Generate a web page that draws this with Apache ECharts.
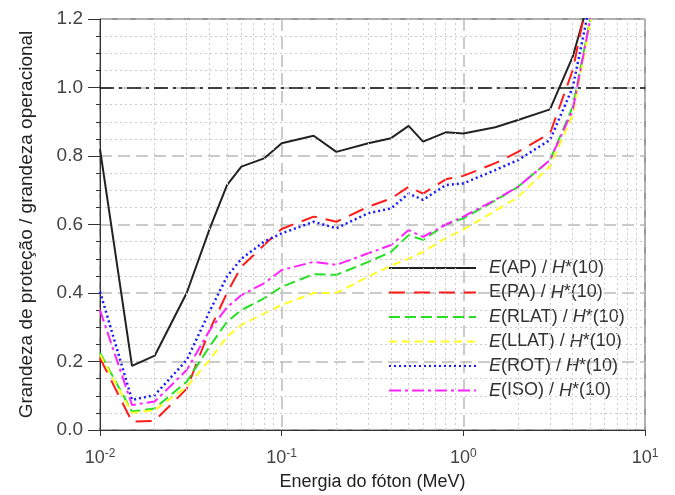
<!DOCTYPE html>
<html>
<head>
<meta charset="utf-8">
<script src="https://cdn.jsdelivr.net/npm/echarts@6/dist/echarts.min.js"></script>
<style>
html, body { margin: 0; padding: 0; background: #fff; }
#main { width: 675px; height: 495px; }
</style>
</head>
<body>
<div id="main"></div>
<script>
// photon energies (MeV)
const energies = [0.01, 0.015, 0.02, 0.03, 0.04, 0.05, 0.06, 0.08, 0.1, 0.15, 0.2, 0.3, 0.4, 0.5, 0.6, 0.8, 1, 1.5, 2, 3, 4, 5, 6];
// ratio E / H*(10) per geometry
const ap = [0.82, 0.187, 0.217, 0.40, 0.585, 0.715, 0.769, 0.793, 0.837, 0.859, 0.812, 0.837, 0.852, 0.888, 0.842, 0.869, 0.866, 0.884, 0.905, 0.936, 1.09, 1.27, 1.5];
const pa = [0.21, 0.024, 0.027, 0.12, 0.29, 0.40, 0.477, 0.54, 0.587, 0.623, 0.608, 0.652, 0.676, 0.71, 0.69, 0.732, 0.742, 0.779, 0.812, 0.866, 1.05, 1.3, 1.55];
const rlat = [0.225, 0.054, 0.063, 0.141, 0.243, 0.316, 0.35, 0.384, 0.418, 0.455, 0.453, 0.491, 0.52, 0.569, 0.555, 0.60, 0.618, 0.67, 0.71, 0.788, 0.944, 1.2, 1.45];
const llat = [0.22, 0.05, 0.058, 0.126, 0.204, 0.272, 0.307, 0.34, 0.365, 0.40, 0.40, 0.448, 0.48, 0.50, 0.52, 0.56, 0.585, 0.64, 0.68, 0.77, 0.92, 1.19, 1.45];
const rot = [0.404, 0.088, 0.102, 0.204, 0.345, 0.448, 0.50, 0.55, 0.574, 0.608, 0.589, 0.633, 0.647, 0.69, 0.672, 0.715, 0.72, 0.759, 0.788, 0.847, 1.0, 1.25, 1.5];
const iso = [0.35, 0.073, 0.083, 0.175, 0.29, 0.358, 0.394, 0.428, 0.467, 0.491, 0.482, 0.516, 0.54, 0.584, 0.564, 0.60, 0.623, 0.672, 0.71, 0.788, 0.934, 1.2, 1.45];
// minor gridline positions on the log axis
const minorX = [0.02, 0.03, 0.04, 0.05, 0.06, 0.07, 0.08, 0.09, 0.2, 0.3, 0.4, 0.5, 0.6, 0.7, 0.8, 0.9, 2, 3, 4, 5, 6, 7, 8, 9];

const font = 'Liberation Sans, Arial, sans-serif';
const pairs = vals => energies.map((e, i) => [e, vals[i]]);

function line(name, vals, color, type, width) {
  return {
    name: name,
    type: 'line',
    data: pairs(vals),
    symbol: 'none',
    z: 3,
    lineStyle: { color: color, type: type, width: width || 2 },
    itemStyle: { color: color }
  };
}

const chart = echarts.init(document.getElementById('main'));
chart.setOption({
  animation: false,
  textStyle: { fontFamily: font },
  grid: {
    left: 100, right: 30, top: 19, bottom: 65,
    outerBoundsMode: 'none',
    show: true, borderColor: '#333', borderWidth: 1
  },
  legend: {
    data: ['AP', 'PA', 'RLAT', 'LLAT', 'ROT', 'ISO'],
    orient: 'vertical',
    left: 383,
    top: 254,
    itemWidth: 87,
    itemHeight: 14,
    itemGap: 6.5,
    itemStyle: { opacity: 0 },
    formatter: n => (n === 'PA' ? 'E' : '{i|E}') + '(' + n + ') / {i|H}*(10)',
    textStyle: {
      fontSize: 18,
      color: '#333',
      padding: [0, 0, 0, 8],
      rich: { i: { fontStyle: 'italic', fontSize: 18, color: '#333', fontFamily: font } }
    }
  },
  xAxis: {
    type: 'log',
    logBase: 10,
    min: 0.01,
    max: 10,
    name: 'Energia do fóton (MeV)',
    nameLocation: 'middle',
    nameGap: 43,
    nameTextStyle: { fontSize: 18, color: '#222' },
    axisLine: { lineStyle: { color: '#333' } },
    axisTick: { inside: false, length: 6, lineStyle: { color: '#333' } },
    axisLabel: {
      fontSize: 18,
      color: '#444',
      margin: 18,
      formatter: v => '10{s|' + Math.round(Math.log10(v)) + '}',
      rich: { s: { fontSize: 12, verticalAlign: 'top', color: '#444', padding: [0, 0, 8, 0] } }
    },
    splitLine: { show: true, lineStyle: { color: '#bbb', type: [12, 6], width: 1.5 } }
  },
  yAxis: {
    type: 'value',
    min: 0,
    max: 1.2,
    interval: 0.2,
    name: 'Grandeza de proteção / grandeza operacional',
    nameLocation: 'middle',
    nameGap: 64,
    nameTextStyle: { fontSize: 19, color: '#222' },
    axisLine: { show: true, lineStyle: { color: '#333' } },
    axisTick: { show: true, length: 12, lineStyle: { color: '#333' } },
    axisLabel: { fontSize: 19, color: '#444', margin: 17, formatter: v => v.toFixed(1) },
    minorTick: { show: true, splitNumber: 4, length: 4, lineStyle: { color: '#333' } },
    splitLine: { show: true, lineStyle: { color: '#bbb', type: [12, 6], width: 1.5 } },
    minorSplitLine: { show: true, lineStyle: { color: '#ccc', type: [2, 3] } }
  },
  series: [
    {
      name: 'grid',
      type: 'line',
      data: [],
      z: 1,
      silent: true,
      markLine: {
        silent: true,
        symbol: 'none',
        label: { show: false },
        lineStyle: { color: '#ccc', type: [2, 3], width: 1 },
        data: minorX.map(v => ({ xAxis: v })).concat([
          { yAxis: 1.0, lineStyle: { color: '#111', type: [14, 5, 3, 5], width: 1.5 } }
        ])
      }
    },
    line('AP', ap, '#222', 'solid', 2),
    line('PA', pa, '#ff1a1a', [16, 9], 2),
    line('RLAT', rlat, '#22e022', [11, 5], 2),
    line('LLAT', llat, '#ffff22', [8, 5], 2),
    line('ROT', rot, '#1a1aff', [2, 3], 2.5),
    line('ISO', iso, '#ff22ff', [12, 4, 3, 4], 2)
  ]
});
</script>
</body>
</html>
